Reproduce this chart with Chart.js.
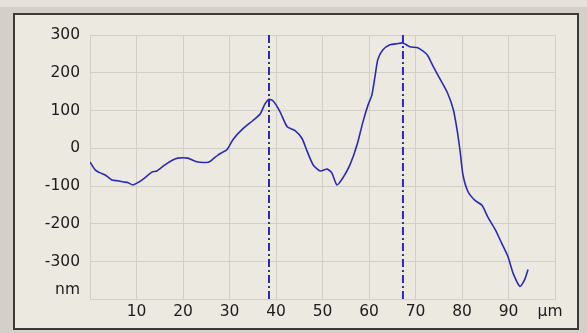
<!DOCTYPE html>
<html>
<head>
<meta charset="utf-8">
<script src="https://cdn.jsdelivr.net/npm/chart.js@4/dist/chart.umd.min.js"></script>
<style>
  html, body { margin: 0; padding: 0; width: 587px; height: 333px; overflow: hidden; background: #d4d0c8; }
  #strip { position: absolute; left: 0; top: 0; width: 587px; height: 7px; background: #e4e1da; }
  #panel { position: absolute; left: 13px; top: 13px; width: 566px; height: 317px; box-sizing: border-box;
           border: 2px solid #3a3a3a; background: #ece9e1; }
  #wrap { position: absolute; left: 0; top: 0; width: 562px; height: 313px; }
</style>
</head>
<body>
<div id="strip"></div>
<div id="panel"><div id="wrap"><canvas id="c" width="562" height="313"></canvas></div></div>
<script>
// Height profile along the scan line (µm, nm)
const profileX = [0, 1.1, 2.2, 3.2, 4.7, 6.0, 7.2, 8.2, 9.2, 10.3, 11.8, 13.3, 14.4, 16.1, 17.8, 18.9, 21.0, 22.6, 23.7, 25.4,
  26.2, 27.5, 28.6, 29.5, 30.8, 32.9, 35.0, 36.6, 37.6, 38.5, 39.4, 40.9, 42.4, 44.1, 45.6, 46.7, 48.0, 49.5, 51.0, 52.0,
  53.1, 54.4, 55.9, 57.4, 58.7, 59.8, 60.6, 61.3, 61.9, 63.0, 64.5, 66.0, 67.3, 68.8, 70.5, 72.5, 73.8, 75.3, 76.8, 78.1,
  78.9, 79.6, 80.2, 81.3, 82.8, 84.3, 85.6, 87.1, 88.6, 89.9, 91.0, 92.5, 93.5, 94.2];
const profileY = [-36, -57, -65, -70, -84, -86, -89, -91, -97, -91, -78, -63, -60, -44, -31, -26, -26, -34, -37, -37,
  -31, -18, -10, -3, 24, 52, 73, 91, 117, 130, 125, 96, 57, 47, 26, -8, -44, -60, -55, -65,
  -97, -78, -44, 8, 70, 115, 140, 191, 235, 261, 274, 277, 279, 269, 266, 248, 217, 183, 149, 104,
  52, -8, -70, -115, -138, -151, -183, -214, -253, -287, -331, -366, -347, -321];

// Cursor positions (µm)
const cursorX = [38.5, 67.3];

// Axis ticks
const xTicks = [0, 10, 20, 30, 40, 50, 60, 70, 80, 90, 100];
const xTickLabels = ['', '10', '20', '30', '40', '50', '60', '70', '80', '90', 'µm  '];
const yTicks = [-400, -300, -200, -100, 0, 100, 200, 300];
const yTickLabels = [['nm', ''], '-300', '-200', '-100', '0', '100', '200', '300'];

const yMin = -400, yMax = 300;
const blue = '#2b2bb2';
const gridColor = '#d3cfc4';
const textColor = '#1c1c1c';
const font = { family: 'DejaVu Sans', size: 15.5 };

const datasets = [{
  data: profileX.map((x, i) => ({ x: x, y: profileY[i] })),
  borderColor: blue,
  borderWidth: 1.6,
  pointRadius: 0,
  showLine: true,
  tension: 0.2,
  fill: false
}];
cursorX.forEach(cx => datasets.push({
  data: [{ x: cx, y: yMax }, { x: cx, y: yMin }],
  borderColor: blue,
  borderWidth: 2,
  borderDash: [8, 3, 2, 3],
  pointRadius: 0,
  showLine: true,
  fill: false
}));

new Chart(document.getElementById('c'), {
  type: 'scatter',
  data: { datasets },
  options: {
    responsive: false,
    animation: false,
    layout: { padding: { left: 0, top: 20, right: 22, bottom: 0 } },
    plugins: { legend: { display: false }, tooltip: { enabled: false } },
    scales: {
      x: {
        type: 'linear',
        min: 0, max: 100,
        afterBuildTicks: s => { s.ticks = xTicks.map(v => ({ value: v })); },
        afterFit: s => { s.height = 25; },
        ticks: {
          color: textColor,
          font,
          padding: 3,
          maxRotation: 0,
          autoSkip: false,
          callback: (v, i) => xTickLabels[i]
        },
        grid: { color: gridColor, lineWidth: 1, drawTicks: false },
        border: { color: gridColor }
      },
      y: {
        type: 'linear',
        min: yMin, max: yMax,
        afterBuildTicks: s => { s.ticks = yTicks.map(v => ({ value: v })); },
        afterFit: s => { s.width = 75; },
        ticks: {
          color: textColor,
          font,
          padding: 10,
          autoSkip: false,
          callback: (v, i) => yTickLabels[i]
        },
        grid: { color: gridColor, lineWidth: 1, drawTicks: false },
        border: { color: gridColor }
      }
    }
  }
});
</script>
</body>
</html>
